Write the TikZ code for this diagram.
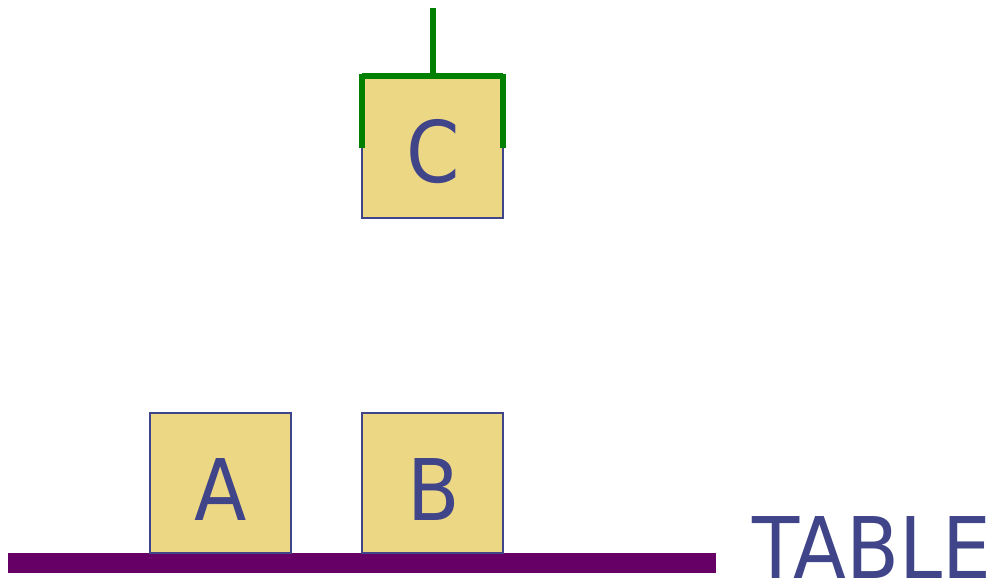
\documentclass[tikz,border=0pt]{standalone}
\usepackage{fontspec}
\setmainfont{DejaVu Sans}
\definecolor{boxfill}{HTML}{ECD785}
\definecolor{boxline}{HTML}{404488}
\definecolor{tablecol}{HTML}{660066}
\definecolor{grip}{HTML}{008000}
\begin{document}
\begin{tikzpicture}[x=1pt,y=1pt,
  block/.style={draw=boxline,fill=boxfill,line width=1.5pt,minimum width=141pt,minimum height=140pt,inner sep=0pt,outer sep=0pt},
  lbl/.style={text=boxline,font=\fontsize{85}{90}\selectfont,inner sep=0pt,anchor=base,xscale=0.9},
  gripline/.style={draw=grip,line width=6pt}]
\useasboundingbox (0,0) rectangle (996,584);
% table
\node[fill=tablecol,minimum width=708pt,minimum height=20pt,inner sep=0pt,outer sep=0pt,anchor=south west] (table) at (8,11) {};
\node[lbl,xscale=1.01] (tablelbl) at (872,6) {TABLE};
% blocks
\node[block,anchor=south west] (A) at (150,31) {};
\node[block,anchor=south west] (B) at (362,31) {};
\node[block,anchor=south west] (C) at (362,366) {};
\node[lbl] (Alab) at (221,64) {A};
\node[lbl] (Blab) at (434,64) {B};
\node[lbl] (Clab) at (433,401) {C};
% gripper
\coordinate (gl) at (362,508);
\coordinate (gr) at (503,508);
\coordinate (gm) at (433,508);
\coordinate (gtop) at (433,576);
\coordinate (gldown) at (362,436);
\coordinate (grdown) at (503,436);
\draw[gripline] (gl) -- (gr);
\draw[gripline] (gm) -- (gtop);
\draw[gripline] ([yshift=2pt]gl) -- (gldown);
\draw[gripline] ([yshift=2pt]gr) -- (grdown);
\end{tikzpicture}
\end{document}
